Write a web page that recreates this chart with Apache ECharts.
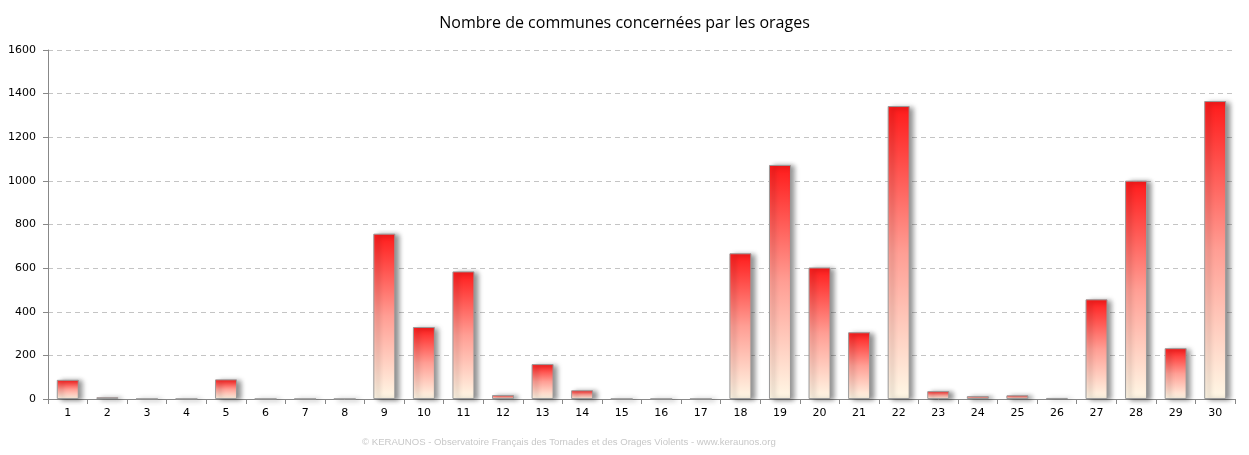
<!DOCTYPE html>
<html>
<head>
<meta charset="utf-8">
<script src="https://cdn.jsdelivr.net/npm/echarts@6/dist/echarts.min.js"></script>
<style>
  html, body { margin: 0; padding: 0; background: #fff; }
  #chart { width: 1249px; height: 455px; }
</style>
</head>
<body>
<div id="chart"></div>
<script>
// jours du mois
const days = ['1','2','3','4','5','6','7','8','9','10','11','12','13','14','15','16','17','18','19','20','21','22','23','24','25','26','27','28','29','30']
// nombre de communes par jour
const communes = [88, 8, 1, 1, 90, 1, 1, 1, 758, 330, 585, 18, 160, 40, 1, 1, 1, 668, 1073, 603, 306, 1343, 36, 13, 17, 5, 457, 1001, 233, 1366]
const yTicks = [0, 200, 400, 600, 800, 1000, 1200, 1400, 1600]

const chart = echarts.init(document.getElementById('chart'))

const option = {
  animation: false,
  title: {
    text: 'Nombre de communes concernées par les orages',
    left: 'center',
    top: 10,
    textStyle: { fontFamily: 'Open Sans', fontSize: 16, fontWeight: 'normal', color: '#000' }
  },
  graphic: [{
    type: 'text',
    left: 362,
    top: 437,
    style: {
      text: '© KERAUNOS - Observatoire Français des Tornades et des Orages Violents - www.keraunos.org',
      font: '9.6px "Liberation Sans"',
      fill: '#c8c8c8'
    }
  }],
  grid: { left: 48, right: 14, top: 50, bottom: 56 },
  xAxis: {
    type: 'category',
    data: days,
    axisLine: { lineStyle: { color: '#888' } },
    axisTick: { show: true, alignWithLabel: false, length: 5, lineStyle: { color: '#888' } },
    axisLabel: { color: '#000', fontSize: 11, fontFamily: 'DejaVu Sans', margin: 9 }
  },
  yAxis: {
    type: 'value',
    min: yTicks[0],
    max: yTicks[yTicks.length - 1],
    interval: 200,
    axisLine: { show: true, lineStyle: { color: '#888' } },
    axisTick: { show: true, length: 5, lineStyle: { color: '#888' } },
    axisLabel: { color: '#000', fontSize: 11, fontFamily: 'DejaVu Sans', margin: 12, formatter: v => String(v) },
    splitLine: { lineStyle: { color: '#c4c4c4', type: [5, 4] } }
  },
  series: [{
    type: 'bar',
    data: communes,
    barWidth: 22,
    itemStyle: {
      color: {
        type: 'linear', x: 0, y: 0, x2: 0, y2: 1,
        colorStops: [
          { offset: 0, color: '#ff1a1a' },
          { offset: 0.5, color: '#ff9e94' },
          { offset: 1, color: '#fff8e6' }
        ]
      },
      borderColor: '#9a9a9a',
      borderWidth: 1,
      shadowColor: 'rgba(0,0,0,0.45)',
      shadowBlur: 5,
      shadowOffsetX: 4,
      shadowOffsetY: 1
    }
  }]
}

chart.setOption(option)
window.addEventListener('resize', () => chart.resize())
</script>
</body>
</html>
